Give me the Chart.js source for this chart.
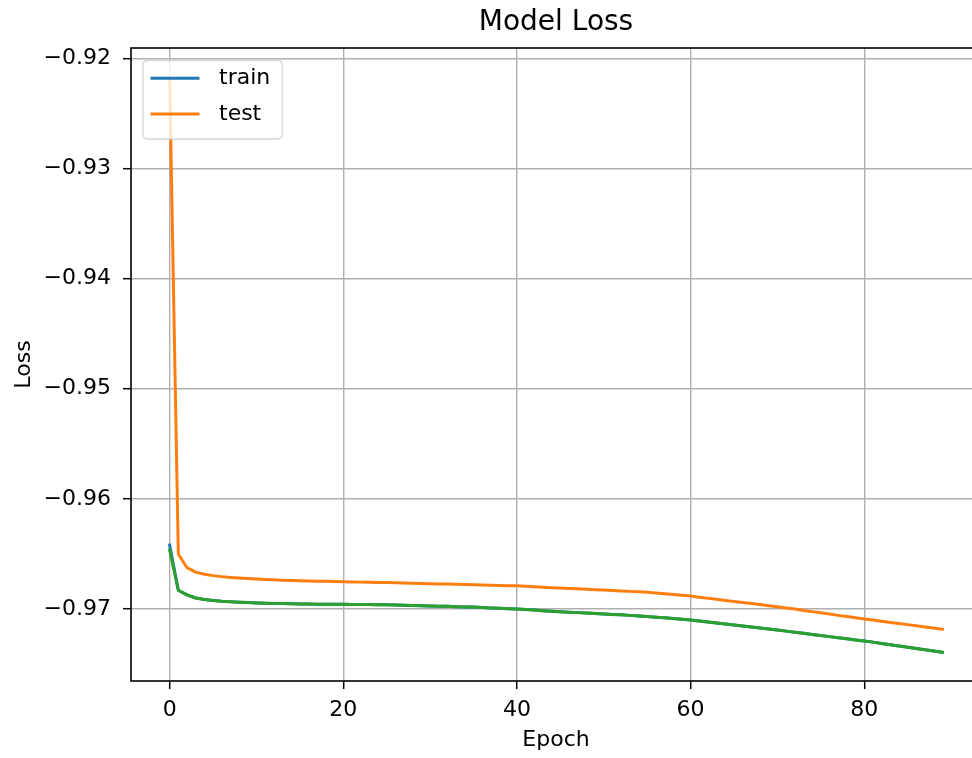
<!DOCTYPE html>
<html>
<head>
<meta charset="utf-8">
<script src="https://cdn.jsdelivr.net/npm/chart.js@4.4.1/dist/chart.umd.min.js"></script>
<style>
  html, body { margin: 0; padding: 0; background: #ffffff; overflow: hidden; }
  #wrap { width: 990px; height: 758px; position: relative; }
</style>
</head>
<body>
<div id="wrap"><canvas id="lossChart" width="990" height="758"></canvas></div>
<script>
// Epoch index for each recorded loss value
const epochs = Array.from({ length: 90 }, (_, i) => i);

// Training loss per epoch
const trainLoss = [
  -0.96420, -0.96830, -0.96872, -0.96900, -0.96914, -0.96923, -0.96930, -0.96935, -0.96939, -0.96942,
  -0.96945, -0.96947, -0.96949, -0.96951, -0.96952, -0.96954, -0.96955, -0.96956, -0.96957, -0.96957,
  -0.96958, -0.96959, -0.96959, -0.96960, -0.96961, -0.96962, -0.96964, -0.96966, -0.96968, -0.96970,
  -0.96972, -0.96974, -0.96976, -0.96979, -0.96981, -0.96983, -0.96986, -0.96990, -0.96993, -0.96997,
  -0.97000, -0.97005, -0.97010, -0.97015, -0.97020, -0.97025, -0.97029, -0.97033, -0.97037, -0.97041,
  -0.97045, -0.97049, -0.97053, -0.97058, -0.97063, -0.97068, -0.97074, -0.97080, -0.97086, -0.97093,
  -0.97100, -0.97109, -0.97118, -0.97127, -0.97136, -0.97145, -0.97154, -0.97163, -0.97172, -0.97181,
  -0.97191, -0.97201, -0.97211, -0.97221, -0.97231, -0.97241, -0.97251, -0.97261, -0.97271, -0.97281,
  -0.97290, -0.97301, -0.97313, -0.97324, -0.97336, -0.97347, -0.97359, -0.97370, -0.97382, -0.97393
];

// Validation loss per epoch
const testLoss = [
  -0.92170, -0.96500, -0.96625, -0.96665, -0.96685, -0.96697, -0.96706, -0.96713, -0.96719, -0.96724,
  -0.96728, -0.96732, -0.96735, -0.96738, -0.96741, -0.96743, -0.96745, -0.96747, -0.96749, -0.96751,
  -0.96753, -0.96754, -0.96756, -0.96757, -0.96759, -0.96760, -0.96762, -0.96764, -0.96766, -0.96768,
  -0.96770, -0.96772, -0.96774, -0.96776, -0.96778, -0.96780, -0.96782, -0.96784, -0.96786, -0.96788,
  -0.96790, -0.96794, -0.96798, -0.96802, -0.96806, -0.96810, -0.96813, -0.96817, -0.96821, -0.96825,
  -0.96828, -0.96832, -0.96836, -0.96840, -0.96844, -0.96849, -0.96855, -0.96861, -0.96868, -0.96875,
  -0.96883, -0.96893, -0.96902, -0.96912, -0.96922, -0.96932, -0.96941, -0.96951, -0.96960, -0.96970,
  -0.96979, -0.96990, -0.97001, -0.97013, -0.97024, -0.97035, -0.97046, -0.97058, -0.97069, -0.97080,
  -0.97091, -0.97101, -0.97111, -0.97122, -0.97132, -0.97142, -0.97152, -0.97163, -0.97173, -0.97184
];

// Loss curve plotted a second time (green), drawn over the training curve
const lossCurve = [
  -0.96465, -0.96830, -0.96872, -0.96900, -0.96914, -0.96923, -0.96930, -0.96935, -0.96939, -0.96942,
  -0.96945, -0.96947, -0.96949, -0.96951, -0.96952, -0.96954, -0.96955, -0.96956, -0.96957, -0.96957,
  -0.96958, -0.96959, -0.96959, -0.96960, -0.96961, -0.96962, -0.96964, -0.96966, -0.96968, -0.96970,
  -0.96972, -0.96974, -0.96976, -0.96979, -0.96981, -0.96983, -0.96986, -0.96990, -0.96993, -0.96997,
  -0.97000, -0.97005, -0.97010, -0.97015, -0.97020, -0.97025, -0.97029, -0.97033, -0.97037, -0.97041,
  -0.97045, -0.97049, -0.97053, -0.97058, -0.97063, -0.97068, -0.97074, -0.97080, -0.97086, -0.97093,
  -0.97100, -0.97109, -0.97118, -0.97127, -0.97136, -0.97145, -0.97154, -0.97163, -0.97172, -0.97181,
  -0.97191, -0.97201, -0.97211, -0.97221, -0.97231, -0.97241, -0.97251, -0.97261, -0.97271, -0.97281,
  -0.97290, -0.97301, -0.97313, -0.97324, -0.97336, -0.97347, -0.97359, -0.97370, -0.97382, -0.97393
];

// Axis ticks
const xTicks = [0, 20, 40, 60, 80];
const yTicks = [-0.97, -0.96, -0.95, -0.94, -0.93, -0.92];

const FONT = 'DejaVu Sans';
const toPoints = (values) => values.map((v, i) => ({ x: epochs[i], y: v }));

// Black frame around the plotting area, drawn above the curves
const framePlugin = {
  id: 'frame',
  afterDatasetsDraw(chart) {
    const { ctx, chartArea: a } = chart;
    ctx.save();
    ctx.strokeStyle = '#000000';
    ctx.lineWidth = 1.6;
    ctx.strokeRect(a.left, a.top, a.right - a.left, a.bottom - a.top);
    ctx.restore();
  }
};

// Legend box in the upper-left corner of the plotting area
const cornerLegend = {
  id: 'cornerLegend',
  afterDatasetsDraw(chart) {
    const { ctx, chartArea: a } = chart;
    const items = chart.data.datasets.filter(d => d.inLegend);
    const boxL = a.left + 12, boxT = a.top + 12.5;
    const lineX0 = a.left + 19.5, lineX1 = a.left + 68.5;
    const textX = a.left + 88;
    const rowY0 = a.top + 30.3, rowStep = 35.7;
    ctx.save();
    ctx.font = '22px "' + FONT + '"';
    let maxW = 0;
    items.forEach(d => { maxW = Math.max(maxW, ctx.measureText(d.label).width); });
    const boxW = textX + maxW + 12 - boxL;
    const boxH = (rowY0 - boxT) + rowStep * (items.length - 1) + 25;
    const r = 4.5;
    ctx.beginPath();
    ctx.moveTo(boxL + r, boxT);
    ctx.lineTo(boxL + boxW - r, boxT);
    ctx.quadraticCurveTo(boxL + boxW, boxT, boxL + boxW, boxT + r);
    ctx.lineTo(boxL + boxW, boxT + boxH - r);
    ctx.quadraticCurveTo(boxL + boxW, boxT + boxH, boxL + boxW - r, boxT + boxH);
    ctx.lineTo(boxL + r, boxT + boxH);
    ctx.quadraticCurveTo(boxL, boxT + boxH, boxL, boxT + boxH - r);
    ctx.lineTo(boxL, boxT + r);
    ctx.quadraticCurveTo(boxL, boxT, boxL + r, boxT);
    ctx.closePath();
    ctx.fillStyle = 'rgba(255,255,255,0.8)';
    ctx.fill();
    ctx.strokeStyle = 'rgba(204,204,204,0.8)';
    ctx.lineWidth = 1.3;
    ctx.stroke();
    items.forEach((d, i) => {
      const y = rowY0 + i * rowStep;
      ctx.beginPath();
      ctx.strokeStyle = d.borderColor;
      ctx.lineWidth = d.borderWidth;
      ctx.lineCap = 'butt';
      ctx.moveTo(lineX0, y);
      ctx.lineTo(lineX1, y);
      ctx.stroke();
      ctx.fillStyle = '#000000';
      ctx.textAlign = 'left';
      ctx.textBaseline = 'middle';
      ctx.fillText(d.label, textX, y);
    });
    ctx.restore();
  }
};

const lineStyle = {
  borderWidth: 3,
  pointRadius: 0,
  pointHoverRadius: 0,
  tension: 0,
  fill: false,
  borderCapStyle: 'square',
  borderJoinStyle: 'round'
};

new Chart(document.getElementById('lossChart'), {
  type: 'line',
  data: {
    datasets: [
      Object.assign({ label: 'train', data: toPoints(trainLoss), borderColor: '#1f77b4', order: 3, inLegend: true }, lineStyle),
      Object.assign({ label: 'test', data: toPoints(testLoss), borderColor: '#ff7f0e', order: 2, inLegend: true }, lineStyle),
      Object.assign({ label: 'loss', data: toPoints(lossCurve), borderColor: '#2ca02c', order: 1, inLegend: false }, lineStyle)
    ]
  },
  options: {
    responsive: false,
    devicePixelRatio: 1,
    animation: false,
    layout: { padding: { left: 0, right: 9, top: 0, bottom: 0 } },
    plugins: {
      legend: { display: false },
      tooltip: { enabled: false },
      title: {
        display: true,
        text: 'Model Loss',
        fullSize: false,
        color: '#000000',
        font: { family: FONT, size: 28, weight: 'normal' },
        padding: { top: 5.8, bottom: 8.6 }
      }
    },
    scales: {
      x: {
        type: 'linear',
        min: -4.45,
        max: 93.45,
        afterBuildTicks: (scale) => { scale.ticks = xTicks.map(v => ({ value: v })); },
        afterFit: (scale) => { scale.height = 77; },
        ticks: {
          autoSkip: false,
          maxRotation: 0,
          padding: 8,
          color: '#000000',
          font: { family: FONT, size: 22 },
          callback: (v) => String(v)
        },
        grid: {
          color: '#b0b0b0',
          lineWidth: 1.4,
          drawTicks: true,
          tickLength: 8,
          tickColor: '#000000',
          tickWidth: 1.5
        },
        border: { display: false },
        title: {
          display: true,
          text: 'Epoch',
          color: '#000000',
          font: { family: FONT, size: 22 },
          padding: { top: 0, bottom: 4.5 }
        }
      },
      y: {
        type: 'linear',
        min: -0.97654,
        max: -0.91905,
        afterBuildTicks: (scale) => { scale.ticks = yTicks.map(v => ({ value: v })); },
        afterFit: (scale) => { scale.width = 131; },
        ticks: {
          autoSkip: false,
          padding: 12,
          color: '#000000',
          font: { family: FONT, size: 22 },
          callback: (v) => (v < 0 ? '\u2212' : '') + Math.abs(v).toFixed(2)
        },
        grid: {
          color: '#b0b0b0',
          lineWidth: 1.4,
          drawTicks: true,
          tickLength: 8,
          tickColor: '#000000',
          tickWidth: 1.5
        },
        border: { display: false },
        title: {
          display: true,
          text: 'Loss',
          color: '#000000',
          font: { family: FONT, size: 22 },
          padding: { top: 11, bottom: 0 }
        }
      }
    }
  },
  plugins: [framePlugin, cornerLegend]
});
</script>
</body>
</html>
